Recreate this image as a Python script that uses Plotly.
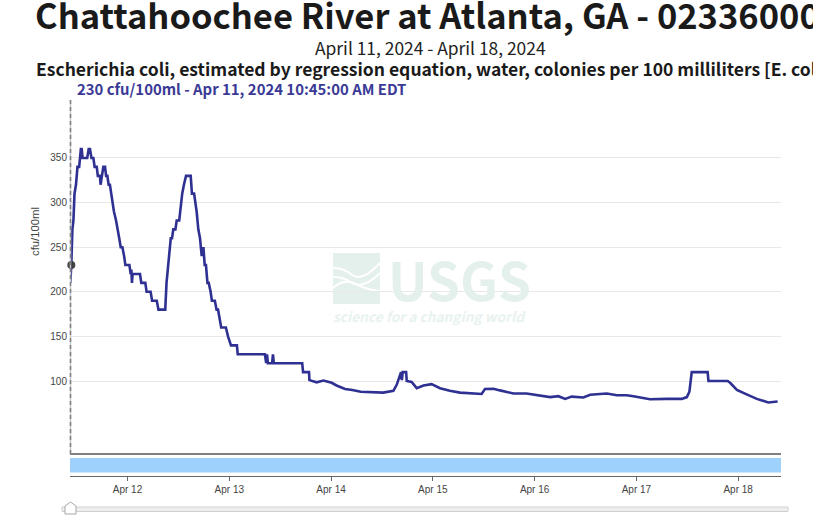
import pandas as pd
import plotly.graph_objects as go

W, H = 813, 517

# hours since Apr 11 2024 00:00 EDT
hours = [10.5, 10.75, 11, 11.25, 11.5, 11.85, 12.2, 12.6, 13, 13.2, 13.4, 14.5, 14.85, 15.15, 15.5, 15.95,
         16.25, 16.75, 17, 17.5, 17.65, 18, 18.3, 18.7, 18.95, 19.25, 19.55, 19.85, 20.2, 20.4, 20.8, 21.3,
         21.6, 22.05, 22.4, 22.8, 23.2, 23.5, 24.45, 24.75, 24.9, 25.05, 25.2, 26.95, 27.25, 28.2, 28.5, 29.45,
         29.8, 30.9, 31.3, 32.9, 33.2, 33.6, 34.2, 34.5, 34.8, 35.3, 35.6, 36.2, 36.55, 36.9, 37.3, 37.8,
         38.9, 39.2, 39.7, 40, 40.3, 40.7, 41.1, 41.5, 41.9, 42.2, 42.5, 42.85, 43.15, 43.6, 43.9, 44.6,
         45, 45.35, 45.65, 46.1, 46.9, 47.2, 47.7, 48.4, 49.8, 50, 56.4, 56.7, 56.9, 57.1, 58.1, 58.3,
         58.5, 65.2, 65.4, 66.8, 66.9, 68.6, 70.2, 72.15, 73.3, 75.3, 77, 79, 84.3, 86.7, 87.5, 88,
         88.5, 88.7, 88.9, 89.7, 89.85, 91, 92.2, 93.8, 95.7, 97.7, 100, 102.4, 104.8, 107.5, 108.3, 110.3,
         111.85, 114.2, 115, 118.1, 121.3, 123.65, 125.6, 127.2, 128.75, 131.5, 133.1, 137, 139.4, 141.7, 143.3, 146.8,
         147.2, 151.15, 154.7, 155.9, 156.5, 157.05, 160.8, 161, 165.5, 166.1, 167.7, 170, 172.4, 175.1, 177.3]
ecoli = [210, 230, 270, 280, 310, 320, 340, 340, 360, 360, 350, 350, 360, 360, 350, 350,
         340, 340, 330, 330, 320, 330, 340, 340, 330, 330, 320, 320, 310, 300, 290, 280,
         270, 260, 250, 250, 240, 230, 230, 220, 225, 210, 220, 220, 210, 210, 200, 200,
         190, 190, 180, 180, 210, 230, 260, 260, 270, 270, 280, 280, 300, 310, 320, 330,
         330, 310, 310, 300, 290, 270, 260, 240, 250, 230, 230, 210, 210, 200, 190, 190,
         180, 180, 170, 160, 160, 160, 150, 140, 140, 130, 130, 120, 130, 120, 120, 130,
         120, 120, 110, 110, 101, 98.5, 100.5, 98, 95, 91, 90, 88, 87, 89, 96, 103,
         110, 101, 110, 110, 100, 99, 92, 95, 96.5, 92, 89, 87, 86, 85.5, 91, 91.4,
         89.5, 87, 86, 86, 83.5, 82, 83, 80, 82.5, 81.5, 84.6, 86, 84, 84, 83, 80.5,
         79.5, 80, 80, 82, 88, 110, 110, 100, 100, 98, 90, 85, 80, 76, 77]

hover_hour = 10.75
hover_value = 230

tick_days = ["2024-04-12", "2024-04-13", "2024-04-14", "2024-04-15", "2024-04-16", "2024-04-17", "2024-04-18"]
tick_labels = ["Apr 12", "Apr 13", "Apr 14", "Apr 15", "Apr 16", "Apr 17", "Apr 18"]
y_ticks = [100, 150, 200, 250, 300, 350]

start = pd.Timestamp("2024-04-11")
times = start + pd.to_timedelta(hours, unit="h")
hover_time = start + pd.to_timedelta(hover_hour, unit="h")

LINE = "#2f3192"
CJK = "Noto Sans CJK SC"
ARIAL = "Liberation Sans"


def px(x):
    return x / W


def py(y):
    return 1 - y / H


def path(points):
    return "M" + " L".join(f"{px(x):.5f},{py(y):.5f}" for x, y in points) + " Z"


def wave(points):
    # start, then pairs of quadratic control/end points
    x0, y0 = points[0]
    d = f"M{px(x0):.5f},{py(y0):.5f}"
    for (cx, cy), (ex, ey) in zip(points[1::2], points[2::2]):
        d += f" Q{px(cx):.5f},{py(cy):.5f} {px(ex):.5f},{py(ey):.5f}"
    return d


fig = go.Figure()
fig.add_trace(go.Scatter(x=times, y=ecoli, mode="lines", line=dict(color=LINE, width=2.6), showlegend=False))
fig.add_trace(go.Scatter(x=[hover_time], y=[hover_value], mode="markers", showlegend=False, cliponaxis=False,
                         marker=dict(color="rgba(50,50,50,0.9)", size=8)))

shapes = [
    # lower axis line, hover crosshair
    dict(type="line", xref="paper", yref="paper", x0=px(70), x1=px(781), y0=py(454), y1=py(454),
         line=dict(color="#808080", width=2)),
    dict(type="line", xref="paper", yref="paper", x0=px(70.5), x1=px(70.5), y0=py(100), y1=py(454),
         line=dict(color="#c8c8c8", width=1.5)),
    dict(type="line", xref="paper", yref="paper", x0=px(70.5), x1=px(70.5), y0=py(100), y1=py(454),
         line=dict(color="#808080", width=1.5, dash="4px,3px")),
    # data availability band
    dict(type="rect", xref="paper", yref="paper", x0=px(70), x1=px(781), y0=py(458), y1=py(472.5),
         fillcolor="#9ed2fd", line=dict(width=0)),
    # slider
    dict(type="rect", xref="paper", yref="paper", x0=px(62), x1=px(788), y0=py(507), y1=py(511.5),
         fillcolor="#eeeeee", line=dict(color="#cfcfcf", width=1)),
    dict(type="path", xref="paper", yref="paper",
         path=path([(65, 514), (65, 506), (70.5, 502), (76, 506), (76, 514)]),
         fillcolor="#ffffff", line=dict(color="#a8a8a8", width=1)),
    # watermark logo
    dict(type="rect", xref="paper", yref="paper", x0=px(333), x1=px(380), y0=py(253), y1=py(304),
         fillcolor="#e4f0ec", line=dict(width=0), layer="below"),
]
logo_waves = [
    [(333, 268), (344, 268), (352, 275), (362, 282), (380, 263)],
    [(333, 277), (344, 277), (352, 283), (364, 289), (380, 273)],
    [(333, 288), (345, 277), (358, 285), (368, 290), (380, 291)],
]
for w in logo_waves:
    shapes.append(dict(type="path", xref="paper", yref="paper", layer="below", path=wave(w),
                       line=dict(color="#ffffff", width=2)))

annotations = [
    dict(text="Chattahoochee River at Atlanta, GA - 02336000", x=px(34), y=py(14), xanchor="left",
         font=dict(family=CJK, size=34.5, color="#1a1a1a", weight=700)),
    dict(text="April 11, 2024 - April 18, 2024", x=px(430), y=py(47), xanchor="center",
         font=dict(family=CJK, size=17.4, color="#222222")),
    dict(text="Escherichia coli, estimated by regression equation, water, colonies per 100 milliliters [E. coli]",
         x=px(35), y=py(68), xanchor="left", font=dict(family=CJK, size=17.5, color="#1a1a1a", weight=700)),
    dict(text="230 cfu/100ml - Apr 11, 2024 10:45:00 AM EDT", x=px(75.5), y=py(89), xanchor="left",
         font=dict(family=CJK, size=14.9, color="#3a3a96", weight=700)),
    dict(text="cfu/100ml", x=px(35), y=py(232), textangle=-90, xanchor="center",
         font=dict(family=ARIAL, size=11.3, color="#444444")),
    dict(text="USGS", x=px(387), y=py(278), xanchor="left",
         font=dict(family=CJK, size=53, color="#e4f0ec", weight=700)),
    dict(text="<i>science for a changing world</i>", x=px(332), y=py(316), xanchor="left",
         font=dict(family=CJK, size=13.7, color="#e8f2ef", weight=700)),
]
for a in annotations:
    a.update(xref="paper", yref="paper", showarrow=False, yanchor="middle", borderpad=0)

fig.update_layout(
    width=W, height=H, autosize=False,
    margin=dict(l=0, r=0, t=0, b=0),
    paper_bgcolor="white", plot_bgcolor="rgba(0,0,0,0)",
    shapes=shapes, annotations=annotations,
    xaxis=dict(domain=[px(70), px(781)], anchor="free", position=py(476),
               range=[start + pd.to_timedelta(10.44, unit="h"), start + pd.to_timedelta(178.1, unit="h")],
               tickvals=tick_days, ticktext=tick_labels, ticks="outside", ticklen=4, tickcolor="#666666",
               showline=True, linecolor="#666666", linewidth=1, showgrid=False, zeroline=False,
               tickfont=dict(family=ARIAL, size=10, color="#444444")),
    yaxis=dict(domain=[py(454), py(100)], range=[18.2, 415], tickvals=y_ticks, showline=False,
               gridcolor="#e8e8e8", gridwidth=1, zeroline=False, ticks="", ticklabelstandoff=2,
               tickfont=dict(family=ARIAL, size=10, color="#444444")),
)

fig.write_html("out.html", config={"displayModeBar": False}, post_script="document.body.style.margin = '0';")
